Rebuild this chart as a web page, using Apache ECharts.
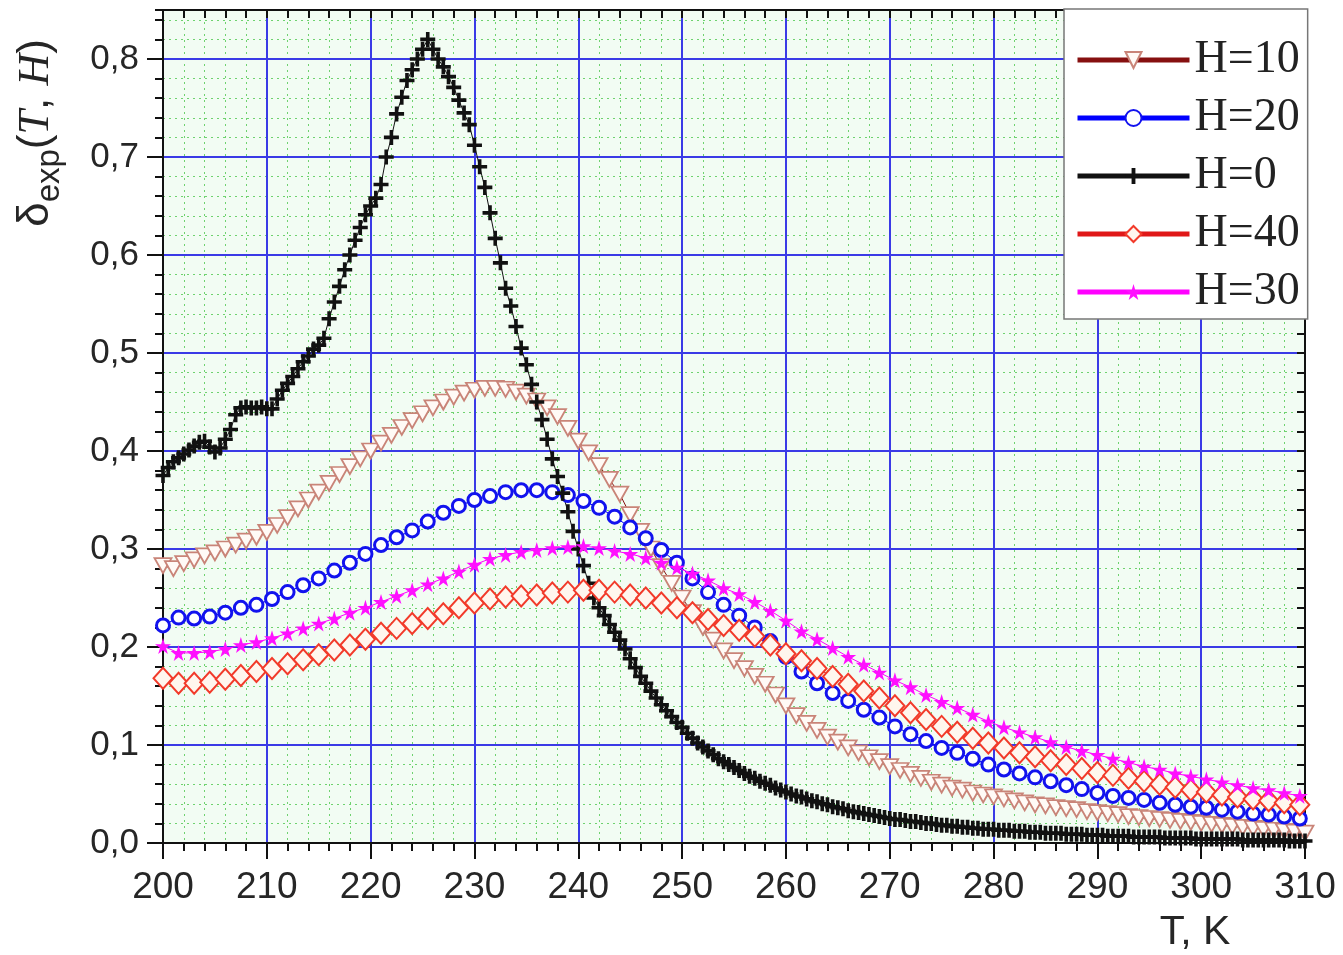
<!DOCTYPE html>
<html>
<head>
<meta charset="utf-8">
<script src="https://cdn.jsdelivr.net/npm/echarts@6/dist/echarts.min.js"></script>
<style>
  html, body { margin: 0; padding: 0; background: #fff; }
  #chart { width: 1343px; height: 955px; }
</style>
</head>
<body>
<div id="chart"></div>
<script>
// temperature sampling of each run (K)
const T_START = 200
const STEP_H0 = 0.5
const STEP_H10 = 1
const STEP_OTHERS = 1.5

const xTicks = [200, 210, 220, 230, 240, 250, 260, 270, 280, 290, 300, 310]

// delta_exp(T, H)
const h0 = [
  0.375, 0.383, 0.389, 0.393, 0.397, 0.401, 0.405, 0.409, 0.410, 0.404,
  0.399, 0.403, 0.412, 0.422, 0.437, 0.444, 0.445, 0.444, 0.444, 0.445,
  0.443, 0.443, 0.453, 0.462, 0.469, 0.476, 0.484, 0.491, 0.497, 0.504,
  0.508, 0.515, 0.535, 0.552, 0.568, 0.585, 0.600, 0.615, 0.628, 0.641,
  0.650, 0.658, 0.672, 0.700, 0.720, 0.744, 0.761, 0.778, 0.789, 0.800,
  0.810, 0.820, 0.810, 0.800, 0.792, 0.782, 0.771, 0.758, 0.745, 0.733,
  0.712, 0.690, 0.669, 0.643, 0.617, 0.592, 0.566, 0.548, 0.527, 0.505,
  0.488, 0.468, 0.450, 0.432, 0.412, 0.392, 0.374, 0.357, 0.338, 0.318,
  0.300, 0.283, 0.265, 0.250, 0.240, 0.232, 0.223, 0.215, 0.207, 0.198,
  0.188, 0.179, 0.170, 0.163, 0.155, 0.148, 0.141, 0.135, 0.129, 0.123,
  0.118, 0.112, 0.107, 0.102, 0.098, 0.094, 0.090, 0.086, 0.083, 0.080,
  0.077, 0.074, 0.071, 0.068, 0.066, 0.063, 0.061, 0.059, 0.056, 0.054,
  0.052, 0.050, 0.048, 0.047, 0.045, 0.043, 0.042, 0.040, 0.039, 0.037,
  0.036, 0.035, 0.033, 0.032, 0.031, 0.030, 0.029, 0.028, 0.027, 0.026,
  0.025, 0.024, 0.024, 0.023, 0.022, 0.022, 0.021, 0.020, 0.020, 0.019,
  0.018, 0.018, 0.017, 0.017, 0.016, 0.016, 0.015, 0.015, 0.014, 0.014,
  0.014, 0.013, 0.013, 0.013, 0.012, 0.012, 0.012, 0.011, 0.011, 0.011,
  0.010, 0.010, 0.010, 0.010, 0.009, 0.009, 0.009, 0.009, 0.008, 0.008,
  0.008, 0.008, 0.007, 0.007, 0.007, 0.007, 0.007, 0.006, 0.006, 0.006,
  0.006, 0.006, 0.006, 0.005, 0.005, 0.005, 0.005, 0.005, 0.005, 0.004,
  0.004, 0.004, 0.004, 0.004, 0.004, 0.004, 0.004, 0.004, 0.003, 0.003,
  0.003, 0.003, 0.003, 0.003, 0.003, 0.003, 0.003, 0.002, 0.002, 0.002,
  0.002
]

const h10 = [
  0.283, 0.280, 0.285, 0.289, 0.293, 0.296, 0.300, 0.304, 0.308, 0.312,
  0.317, 0.324, 0.332, 0.341, 0.350, 0.358, 0.367, 0.376, 0.384, 0.392,
  0.400, 0.408, 0.416, 0.424, 0.431, 0.438, 0.444, 0.450, 0.455, 0.459,
  0.462, 0.464, 0.464, 0.463, 0.460, 0.456, 0.451, 0.444, 0.435, 0.423,
  0.410, 0.398, 0.385, 0.371, 0.356, 0.335, 0.318, 0.300, 0.282, 0.265,
  0.250, 0.235, 0.220, 0.207, 0.196, 0.186, 0.178, 0.170, 0.162, 0.151,
  0.140, 0.130, 0.122, 0.115, 0.108, 0.103, 0.097, 0.092, 0.087, 0.083,
  0.078, 0.074, 0.070, 0.066, 0.062, 0.059, 0.056, 0.054, 0.051, 0.049,
  0.047, 0.045, 0.043, 0.041, 0.039, 0.038, 0.036, 0.035, 0.034, 0.032,
  0.031, 0.030, 0.029, 0.027, 0.026, 0.025, 0.024, 0.023, 0.022, 0.021,
  0.020, 0.019, 0.018, 0.017, 0.016, 0.015, 0.014, 0.013, 0.012, 0.011,
  0.010
]

const h20 = [
  0.222, 0.230, 0.229, 0.231, 0.235, 0.240, 0.243, 0.249, 0.256, 0.263,
  0.270, 0.278, 0.286, 0.295, 0.304, 0.312, 0.319, 0.328, 0.337, 0.344,
  0.350, 0.354, 0.358, 0.360, 0.360, 0.358, 0.355, 0.349, 0.342, 0.333,
  0.322, 0.311, 0.299, 0.286, 0.270, 0.256, 0.243, 0.232, 0.220, 0.206,
  0.190, 0.175, 0.163, 0.153, 0.145, 0.136, 0.128, 0.119, 0.111, 0.104,
  0.097, 0.092, 0.086, 0.080, 0.075, 0.071, 0.067, 0.063, 0.059, 0.055,
  0.051, 0.048, 0.046, 0.044, 0.041, 0.039, 0.037, 0.036, 0.034, 0.032,
  0.030, 0.029, 0.027, 0.025
]

const h40 = [
  0.168, 0.163, 0.163, 0.164, 0.167, 0.171, 0.175, 0.178, 0.183, 0.187,
  0.192, 0.197, 0.202, 0.208, 0.214, 0.219, 0.224, 0.229, 0.234, 0.240,
  0.245, 0.249, 0.251, 0.252, 0.253, 0.255, 0.256, 0.258, 0.258, 0.256,
  0.253, 0.250, 0.245, 0.240, 0.235, 0.228, 0.222, 0.217, 0.211, 0.202,
  0.193, 0.186, 0.178, 0.170, 0.162, 0.155, 0.148, 0.140, 0.133, 0.126,
  0.119, 0.113, 0.107, 0.102, 0.097, 0.092, 0.088, 0.084, 0.080, 0.076,
  0.072, 0.069, 0.066, 0.063, 0.060, 0.057, 0.054, 0.052, 0.049, 0.047,
  0.045, 0.043, 0.041, 0.039
]

const h30 = [
  0.201, 0.194, 0.194, 0.195, 0.198, 0.202, 0.205, 0.209, 0.214, 0.219,
  0.224, 0.229, 0.235, 0.240, 0.246, 0.252, 0.258, 0.264, 0.270, 0.277,
  0.284, 0.290, 0.294, 0.297, 0.299, 0.301, 0.302, 0.303, 0.301, 0.298,
  0.295, 0.291, 0.286, 0.281, 0.275, 0.268, 0.260, 0.254, 0.246, 0.237,
  0.227, 0.216, 0.208, 0.199, 0.190, 0.182, 0.174, 0.166, 0.159, 0.151,
  0.144, 0.138, 0.131, 0.124, 0.118, 0.113, 0.108, 0.103, 0.098, 0.094,
  0.090, 0.086, 0.082, 0.078, 0.075, 0.071, 0.068, 0.065, 0.062, 0.059,
  0.056, 0.054, 0.051, 0.048
]

const legendNames = ['H=10', 'H=20', 'H=0', 'H=40', 'H=30']

const pairs = (values, step) => values.map((v, i) => [T_START + i * step, v])

const plusPath = 'path://M3.8,0h2.4v3.8h3.8v2.4h-3.8v3.8h-2.4v-3.8h-3.8v-2.4h3.8z'
const starPath = 'path://M50,0L61,35L98,35L68,57L79,91L50,70L21,91L32,57L2,35L39,35Z'

const chart = echarts.init(document.getElementById('chart'), null, { renderer: 'canvas' })

const commaFmt = (v) => v.toFixed(1).replace('.', ',')

const option = {
  animation: false,
  backgroundColor: '#ffffff',
  grid: {
    left: 163,
    right: 38,
    top: 10,
    bottom: 112,
    show: true,
    backgroundColor: '#f2fcf3',
    borderWidth: 0
  },
  xAxis: [
    {
      // major bottom axis
      type: 'value',
      position: 'bottom',
      min: xTicks[0],
      max: xTicks[xTicks.length - 1],
      interval: 10,
      z: 3,
      axisLine: { onZero: false, lineStyle: { color: '#111', width: 2 } },
      axisTick: { inside: false, length: 16, lineStyle: { color: '#111', width: 2 } },
      axisLabel: {
        margin: 26,
        color: '#262626',
        fontSize: 37,
        fontFamily: 'Liberation Sans'
      },
      splitLine: { show: true, lineStyle: { color: '#3a3ae6', width: 2 } }
    },
    {
      // minor bottom ticks / dotted grid
      type: 'value',
      position: 'bottom',
      min: 200,
      max: 310,
      interval: 2,
      z: 1,
      axisLine: { show: false, onZero: false },
      axisTick: { inside: false, length: 8, lineStyle: { color: '#111', width: 2 } },
      axisLabel: { show: false },
      splitLine: { show: true, lineStyle: { color: '#6fd26f', width: 1, type: [2, 4] } }
    },
    {
      // top frame
      type: 'value',
      position: 'top',
      min: 200,
      max: 310,
      interval: 2,
      z: 3,
      axisLine: { show: true, onZero: false, lineStyle: { color: '#111', width: 2 } },
      axisTick: { inside: true, length: 8, lineStyle: { color: '#111', width: 2 } },
      axisLabel: { show: false },
      splitLine: { show: false }
    }
  ],
  yAxis: [
    {
      type: 'value',
      position: 'left',
      min: 0,
      max: 0.85,
      interval: 0.1,
      z: 3,
      axisLine: { show: true, onZero: false, lineStyle: { color: '#111', width: 2 } },
      axisTick: { inside: false, length: 16, lineStyle: { color: '#111', width: 2 } },
      axisLabel: {
        margin: 24,
        color: '#262626',
        fontSize: 35,
        fontFamily: 'Liberation Sans',
        showMaxLabel: false,
        formatter: commaFmt
      },
      splitLine: { show: true, lineStyle: { color: '#3a3ae6', width: 2 } }
    },
    {
      type: 'value',
      position: 'left',
      min: 0,
      max: 0.85,
      interval: 0.02,
      z: 1,
      axisLine: { show: false, onZero: false },
      axisTick: { inside: false, length: 8, lineStyle: { color: '#111', width: 2 } },
      axisLabel: { show: false },
      splitLine: { show: true, lineStyle: { color: '#6fd26f', width: 1, type: [2, 4] } }
    },
    {
      type: 'value',
      position: 'right',
      min: 0,
      max: 0.85,
      interval: 0.02,
      z: 3,
      axisLine: { show: true, onZero: false, lineStyle: { color: '#111', width: 2 } },
      axisTick: { inside: true, length: 8, lineStyle: { color: '#111', width: 2 } },
      axisLabel: { show: false },
      splitLine: { show: false }
    }
  ],
  legend: {
    orient: 'vertical',
    left: 1064,
    top: 9,
    padding: [28, 8, 4, 11],
    itemGap: 12,
    itemWidth: 112,
    itemHeight: 20,
    backgroundColor: '#ffffff',
    borderColor: '#777',
    borderWidth: 1.5,
    borderRadius: 0,
    data: legendNames,
    lineStyle: { width: 5 },
    textStyle: {
      fontFamily: 'Liberation Serif',
      fontSize: 46,
      lineHeight: 46,
      color: '#222'
    }
  },
  graphic: [
    {
      type: 'text',
      x: 36,
      y: 133,
      rotation: Math.PI / 2,
      style: {
        text: '{d|δ}{s|exp}{n|(}{i|T}{n|, }{i|H}{n|)}',
        align: 'center',
        verticalAlign: 'middle',
        fill: '#222',
        rich: {
          d: { fontSize: 44, lineHeight: 60, fontFamily: 'Liberation Sans', fill: '#262626' },
          s: { fontSize: 33, lineHeight: 30, verticalAlign: 'bottom', fontFamily: 'Liberation Sans', fill: '#262626' },
          n: { fontSize: 44, lineHeight: 60, fontFamily: 'Liberation Sans', fill: '#262626' },
          i: { fontSize: 44, lineHeight: 60, fontFamily: 'Liberation Serif', fontStyle: 'italic', fill: '#262626' }
        }
      }
    },
    {
      type: 'text',
      x: 1195,
      y: 933,
      style: {
        text: 'T, K',
        align: 'center',
        verticalAlign: 'middle',
        fontSize: 41,
        fontFamily: 'Liberation Sans',
        fill: '#262626'
      }
    }
  ],
  series: [
    {
      name: 'H=10',
      type: 'line',
      data: pairs(h10, STEP_H10),
      symbol: 'triangle',
      symbolRotate: 180,
      symbolSize: [17, 15],
      lineStyle: { color: '#861010', width: 1 },
      itemStyle: { color: '#fffaf6', borderColor: '#c98478', borderWidth: 1.8 }
    },
    {
      name: 'H=20',
      type: 'line',
      data: pairs(h20, STEP_OTHERS),
      symbol: 'circle',
      symbolSize: 13,
      lineStyle: { color: '#0000ff', width: 1 },
      itemStyle: { color: '#ffffff', borderColor: '#1212ee', borderWidth: 3 }
    },
    {
      name: 'H=0',
      type: 'line',
      data: pairs(h0, STEP_H0),
      symbol: plusPath,
      symbolSize: 15,
      lineStyle: { color: '#111', width: 1 },
      itemStyle: { color: '#111' }
    },
    {
      name: 'H=40',
      type: 'line',
      data: pairs(h40, STEP_OTHERS),
      symbol: 'diamond',
      symbolSize: [19, 21],
      lineStyle: { color: '#e01818', width: 1 },
      itemStyle: { color: '#fff6ee', borderColor: '#f23a2a', borderWidth: 2 }
    },
    {
      name: 'H=30',
      type: 'line',
      data: pairs(h30, STEP_OTHERS),
      symbol: starPath,
      symbolSize: 16,
      lineStyle: { color: '#ff00ff', width: 1 },
      itemStyle: { color: '#ff10ff' }
    }
  ]
}

chart.setOption(option)
window.addEventListener('resize', () => chart.resize())
</script>
</body>
</html>
